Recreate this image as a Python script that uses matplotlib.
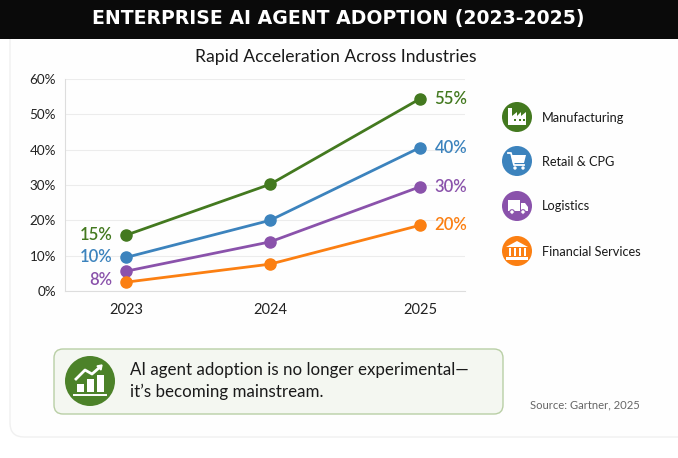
import numpy as np
import matplotlib
matplotlib.use("Agg")
import matplotlib.pyplot as plt
from matplotlib.patches import Circle, FancyBboxPatch, Rectangle, Polygon

plt.rcParams['font.family'] = ['Lato', 'DejaVu Sans']

years = [2023, 2023.98, 2025]
year_labels = ['2023', '2024', '2025']
y_ticks = [0, 10, 20, 30, 40, 50, 60]
manufacturing = [15.8, 30.2, 54.4]
retail = [9.5, 20.0, 40.6]
logistics = [5.6, 13.9, 29.5]
financial = [2.5, 7.6, 18.6]

names = ['Manufacturing', 'Retail & CPG', 'Logistics', 'Financial Services']
series = [manufacturing, retail, logistics, financial]
colors = ['#43791f', '#3c83bd', '#8a52ab', '#fb7f12']
start_labels = ['15%', '10%', '8%', None]
end_labels = ['55%', '40%', '30%', '20%']

W, H = 678, 458
fig = plt.figure(figsize=(W / 100, H / 100), dpi=100, facecolor='white')

# overlay in pixel coordinates for the card, banner, legend and callout
bg = fig.add_axes([0, 0, 1, 1], zorder=0)
bg.set_xlim(0, W)
bg.set_ylim(H, 0)
bg.axis('off')

bg.add_patch(FancyBboxPatch((10, 10), W + 30, 427, boxstyle='round,pad=0,rounding_size=14',
                            fc='#fefefe', ec='#f0f0f0', lw=1))
bg.add_patch(Rectangle((0, 0), W, 39, fc='#0a0a0a', ec='none', zorder=3))
bg.text(338.5, 18.5, 'ENTERPRISE AI AGENT ADOPTION (2023-2025)', color='white', fontsize=13.6,
        fontweight='bold', family='DejaVu Sans', ha='center', va='center', zorder=4)
bg.text(336, 57, 'Rapid Acceleration Across Industries', color='#1a1a1a', fontsize=12.6,
        ha='center', va='center')


def icon_factory(cx, cy):
    bg.add_patch(Polygon([(cx - 9, cy + 8), (cx - 9, cy - 9), (cx - 5, cy - 9), (cx - 5, cy - 1),
                          (cx, cy - 5), (cx, cy - 1), (cx + 4, cy - 5), (cx + 4, cy - 1),
                          (cx + 9, cy - 5), (cx + 9, cy + 8)], fc='white', ec='none', zorder=3))
    for dx in (-3, 2, 6):
        bg.add_patch(Rectangle((cx + dx, cy + 2), 2, 2, fc='#43791f', ec='none', zorder=4))


def icon_cart(cx, cy):
    bg.plot([cx - 9, cx - 6, cx - 3, cx + 7], [cy - 8, cy - 8, cy + 4, cy + 4], color='white', lw=1.3, zorder=3)
    bg.add_patch(Polygon([(cx - 6, cy - 6), (cx + 9, cy - 6), (cx + 7, cy + 2), (cx - 4, cy + 2)],
                         fc='white', ec='none', zorder=3))
    bg.add_patch(Circle((cx - 2, cy + 7), 1.7, fc='white', ec='none', zorder=3))
    bg.add_patch(Circle((cx + 6, cy + 7), 1.7, fc='white', ec='none', zorder=3))


def icon_truck(cx, cy):
    bg.add_patch(Rectangle((cx - 9, cy - 6), 12, 11, fc='white', ec='none', zorder=3))
    bg.add_patch(Polygon([(cx + 4, cy - 3), (cx + 8, cy - 3), (cx + 11, cy + 1), (cx + 11, cy + 5), (cx + 4, cy + 5)],
                         fc='white', ec='none', zorder=3))
    for dx in (-5, 6):
        bg.add_patch(Circle((cx + dx, cy + 6), 2.3, fc='white', ec='#8a52ab', lw=0.8, zorder=4))


def icon_bank(cx, cy):
    bg.add_patch(Polygon([(cx - 11, cy - 4), (cx, cy - 10), (cx + 11, cy - 4)], fc='white', ec='none', zorder=3))
    for dx in (-8, -3, 2, 7):
        bg.add_patch(Rectangle((cx + dx - 0.5, cy - 3), 2, 8, fc='white', ec='none', zorder=3))
    bg.add_patch(Rectangle((cx - 11, cy + 6), 22, 2.5, fc='white', ec='none', zorder=3))


icons = [icon_factory, icon_cart, icon_truck, icon_bank]
legend_y = [117, 161, 206, 251]
for name, color, ly, draw_icon in zip(names, colors, legend_y, icons):
    bg.add_patch(Circle((517, ly), 15, fc=color, ec='none', zorder=2))
    draw_icon(517, ly)
    bg.text(541.5, ly + 0.5, name, color='#1a1a1a', fontsize=9.2, ha='left', va='center')

# callout box
bg.add_patch(FancyBboxPatch((54, 349), 449, 65, boxstyle='round,pad=0,rounding_size=9',
                            fc='#f4f7f1', ec='#b9cfa5', lw=1))
bg.add_patch(Circle((90, 381), 25, fc='#4c8229', ec='none', zorder=2))
for bx, btop in ((77, 384), (87, 379), (97, 375)):
    bg.add_patch(Rectangle((bx, btop), 6.5, 392 - btop, fc='white', ec='none', zorder=3))
bg.plot([74, 106], [394.5, 394.5], color='white', lw=1.4, zorder=3)
bg.plot([76, 85, 92, 100], [379, 370, 374, 367], color='white', lw=2, zorder=3)
bg.add_patch(Polygon([(97, 366), (102, 365), (101, 370)], fc='white', ec='white', zorder=3))
bg.text(130, 369.5, 'AI agent adoption is no longer experimental\u2014', color='#1a1a1a', fontsize=12.2,
        ha='left', va='center')
bg.text(130, 392, 'it\u2019s becoming mainstream.', color='#1a1a1a', fontsize=12.2, ha='left', va='center')
bg.text(640, 405, 'Source: Gartner, 2025', color='#666666', fontsize=8.1, ha='right', va='center')

# main chart, axes box spans x 65-465 and y 79-291 px
ax = fig.add_axes([65 / W, 1 - 291 / H, 400 / W, 212 / H], zorder=1)
ax.patch.set_alpha(0)
ax.set_xlim(2022.585, 2025.306)
ax.set_ylim(0, 60)
for side in ['top', 'right']:
    ax.spines[side].set_visible(False)
for side in ['left', 'bottom']:
    ax.spines[side].set_color('#dddddd')
ax.grid(axis='y', color='#ececec', lw=0.8)
ax.set_axisbelow(True)
ax.set_yticks(y_ticks)
ax.set_yticklabels([f'{v}%' for v in y_ticks], fontsize=9.7, color='#222222')
ax.set_xticks(years)
ax.set_xticklabels(year_labels, fontsize=10.5, color='#222222')
ax.tick_params(length=0)
ax.tick_params(axis='x', pad=9)
ax.tick_params(axis='y', pad=6.5)

for vals, color, first, last in zip(series, colors, start_labels, end_labels):
    ax.plot(years, vals, color=color, lw=2, marker='o', ms=8, clip_on=False)
    ax.annotate(last, (years[-1], vals[-1]), xytext=(10.5, 0), textcoords='offset points', color=color,
                fontsize=12, fontweight='semibold', ha='left', va='center', annotation_clip=False)
    if first:
        # 8% sits lower than its own point, beside the orange marker
        shift = -6.5 if first == '8%' else 0
        ax.annotate(first, (years[0], vals[0]), xytext=(-10, shift), textcoords='offset points', color=color,
                    fontsize=12, fontweight='semibold', ha='right', va='center', annotation_clip=False)

fig.savefig('out.png', dpi=100)
